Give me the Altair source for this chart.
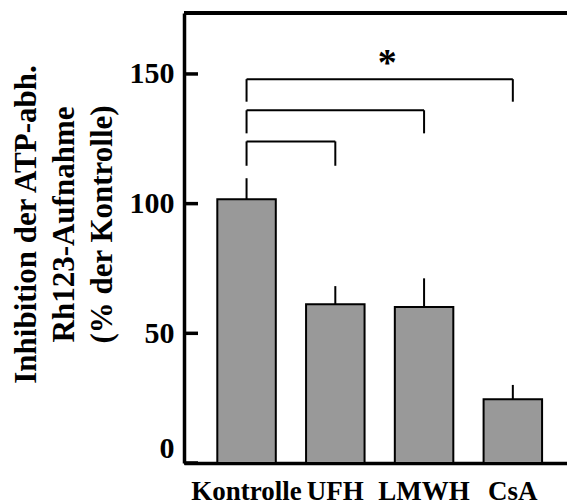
import altair as alt
import pandas as pd

categories = ["Kontrolle", "UFH", "LMWH", "CsA"]
means = [101.7, 61.2, 60.1, 24.6]
sem = [8.1, 7.0, 11.1, 5.5]

bracket_from = ["Kontrolle", "Kontrolle", "Kontrolle"]
bracket_to = ["UFH", "LMWH", "CsA"]
bracket_top = [124.0, 136.0, 148.0]
bracket_leg = [114.6, 127.1, 139.3]

star_label = ["*"]
star_cat = ["UFH"]
star_y = [155.4]

y_ticks = [0, 50, 100, 150]

FONT = "Liberation Serif"

bars_df = pd.DataFrame({"cat": categories, "mean": means, "sem": sem})
br_df = pd.DataFrame({"a": bracket_from, "b": bracket_to, "top": bracket_top, "leg": bracket_leg})
star_df = pd.DataFrame({"t": star_label, "cat": star_cat, "y": star_y})
tick_df = pd.DataFrame({"v": y_ticks})

xscale = alt.Scale(domain=categories, paddingInner=0.341, paddingOuter=0.328, align=0.572)
yscale = alt.Scale(domain=[0, 173.5], nice=False, zero=True)

x_axis = alt.Axis(
    title=None, ticks=False, labelAngle=0, labelFont=FONT, labelFontSize=27,
    labelFontWeight="bold", labelColor="black", labelPadding=15,
    domainColor="black", domainWidth=3.5, grid=False,
)
y_axis = alt.Axis(
    title=["Inhibition der ATP-abh.", "Rh123-Aufnahme", "(% der Kontrolle)"],
    values=y_ticks, ticks=False, grid=False, labelFont=FONT, labelFontSize=30,
    labelFontWeight="bold", labelColor="black", labelPadding=10, labelFlush=True,
    domainColor="black", domainWidth=3.5,
    titleFont=FONT, titleFontSize=31, titleFontWeight="bold", titleColor="black",
    titleLineHeight=38, titleBaseline="middle", titleX=-158, titleY=211,
)

base = alt.Chart(bars_df)

bars = base.mark_bar(color="#999999", stroke="black", strokeWidth=2).encode(
    x=alt.X("cat:N", scale=xscale, axis=x_axis, sort=categories),
    y=alt.Y("mean:Q", scale=yscale, axis=y_axis),
)

errs = base.transform_calculate(upper="datum.mean + datum.sem").mark_rule(
    color="black", strokeWidth=2
).encode(
    x=alt.X("cat:N", sort=categories),
    y="mean:Q",
    y2="upper:Q",
)

br = alt.Chart(br_df)
br_h = br.mark_rule(color="black", strokeWidth=2).encode(
    x=alt.X("a:N", sort=categories), x2="b:N", y="top:Q"
)
br_l = br.mark_rule(color="black", strokeWidth=2).encode(
    x=alt.X("a:N", sort=categories), y="leg:Q", y2="top:Q"
)
br_r = br.mark_rule(color="black", strokeWidth=2).encode(
    x=alt.X("b:N", sort=categories), y="leg:Q", y2="top:Q"
)

star = alt.Chart(star_df).mark_text(
    font=FONT, fontSize=38, fontWeight="bold", color="black", dx=52, dy=4,
    baseline="middle", align="center",
).encode(x=alt.X("cat:N", sort=categories), y="y:Q", text="t:N")

ticks = alt.Chart(tick_df).mark_rule(color="black", strokeWidth=3.5).encode(
    y="v:Q", x=alt.value(0), x2=alt.value(14)
)

top_line = alt.Chart(tick_df).mark_rule(color="black", strokeWidth=3.5).encode(
    y=alt.value(0), x=alt.value(0), x2=alt.value(383)
)

chart = alt.layer(bars, errs, br_h, br_l, br_r, star, ticks, top_line).properties(
    width=383, height=450,
    autosize=alt.AutoSizeParams(type="none"),
    padding={"left": 184, "top": 13, "right": 0, "bottom": 41},
).configure_view(stroke=None).configure(background="white")

chart.save("out.html", embed_options={"renderer": "svg", "actions": False})
